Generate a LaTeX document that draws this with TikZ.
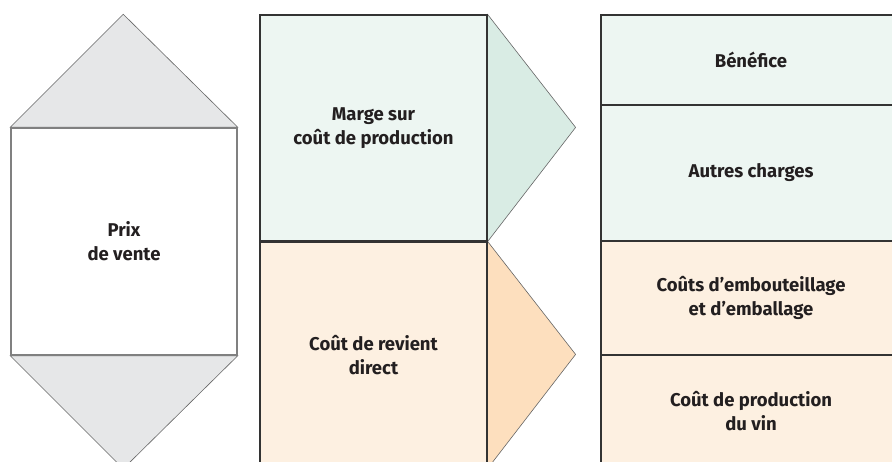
\documentclass[tikz,border=0pt]{standalone}
\usepackage{fontspec}
\setmainfont{Fira Sans}
\usepackage{tikz}
\usetikzlibrary{
	positioning,
	calc,
	backgrounds
}
\definecolor{vertclair}{HTML}{EDF6F2}
\definecolor{vertfonce}{HTML}{D9ECE4}
\definecolor{orangeclair}{HTML}{FDF0E1}
\definecolor{orangefonce}{HTML}{FDDFBE}
\definecolor{grisfond}{HTML}{E6E7E8}
\definecolor{trait}{HTML}{333333}
\definecolor{texte}{HTML}{231F20}

\begin{document}
\begin{tikzpicture}[
		x=1pt, y=-1pt,
		bloc/.style={draw=trait, line width=1.2pt, rectangle, align=center, font=\bfseries\fontsize{18.5}{24}\selectfont, text=texte, inner sep=0pt},
		vert/.style={bloc, fill=vertclair},
		orange/.style={bloc, fill=orangeclair},
		pointe/.style={draw=gray!80!black, line width=0.6pt}
		]
		\useasboundingbox (0,0) rectangle (892,462);
		\clip (0,0) rectangle (892,462);
		
		% --- Left column ---
		\node[bloc, draw=gray, line width=1.5pt, fill=white, minimum width=226pt, minimum height=227pt] (prix) at (124,241.5)
		{Prix \\ de vente};
		
		% --- Middle column ---
		\node[vert, minimum width=227pt, minimum height=226pt] (marge) at (373.5,128)
		{Marge sur \\ coût de production};
		
		\node[orange, minimum width=227pt, minimum height=226pt] (revient) at (373.5,355)
		{Coût de revient \\ direct};
		
		% --- Right column ---
		\node[vert, minimum width=300pt, minimum height=90pt] (benefice) at (751,60)
		{Bénéfice};
		
		\node[vert, minimum width=300pt, minimum height=136pt] (autres) at (751,173)
		{Autres charges};
		
		\node[orange, minimum width=300pt, minimum height=114pt] (embout) at (751,298)
		{Coûts d’embouteillage \\ et d’emballage};
		
		\node[orange, minimum width=300pt, minimum height=113pt] (vin) at (751,411.5)
		{Coût de production \\ du vin};
		
		% --- Pointes ---
		\begin{scope}[on background layer]
			\draw[pointe, fill=grisfond] (prix.north west) -- ++(113,-113) -- (prix.north east) -- cycle;
			\draw[pointe, fill=grisfond] (prix.south west) -- ++(113,113) -- (prix.south east) -- cycle;
			\draw[pointe, fill=vertfonce] (marge.north east) -- ++(88,113) -- (marge.south east) -- cycle;
			\draw[pointe, fill=orangefonce] (revient.north east) -- ++(88,113) -- (revient.south east) -- cycle;
		\end{scope}
		
	\end{tikzpicture}
\end{document}
